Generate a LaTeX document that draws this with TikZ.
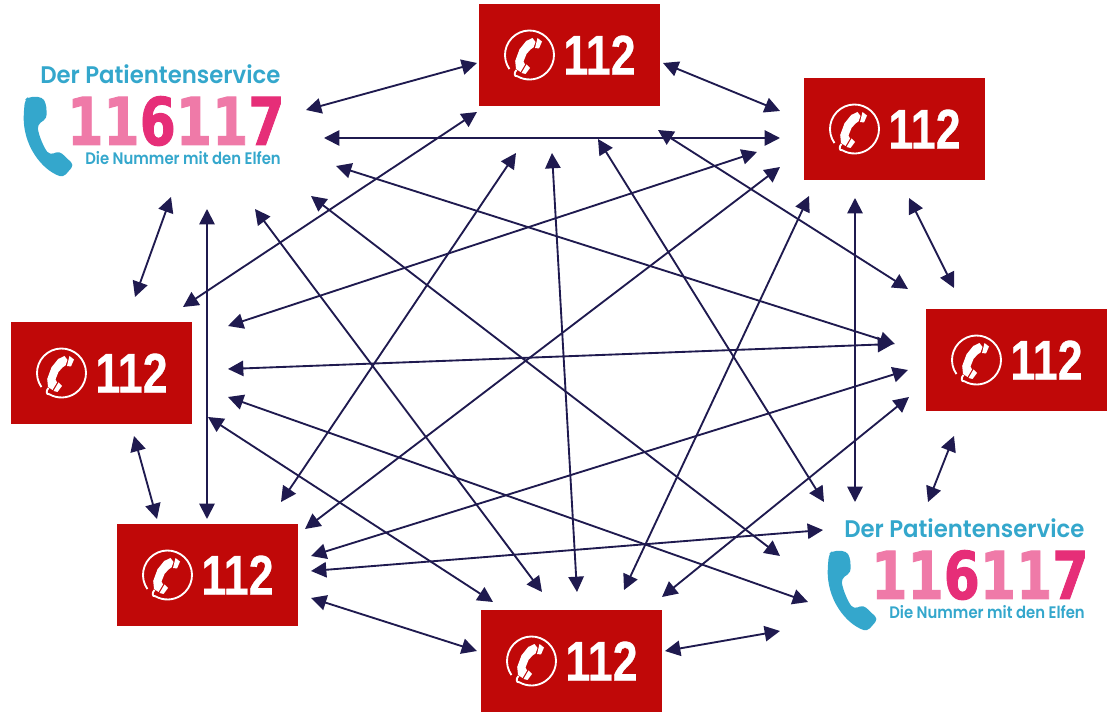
\documentclass[tikz,border=0pt]{standalone}
\usepackage{fontspec}
\usetikzlibrary{arrows.meta}
\newfontfamily\logofont{Poppins SemiBold}
\newfontfamily\digitfont[BoldFeatures={FakeBold=1.5}]{DejaVu Sans}
\newfontfamily\notfont[BoldFeatures={FakeBold=0.6}]{Liberation Sans}
\definecolor{notred}{HTML}{C00808}
\definecolor{linkblue}{HTML}{1F1A4F}
\definecolor{logoblue}{HTML}{34A7CC}
\definecolor{logopink}{HTML}{EF7AA8}
\definecolor{logodark}{HTML}{E62E78}
\tikzset{
    link/.style={<->,>={Stealth[inset=0pt,length=11.5pt,width=11.5pt]},color=linkblue,line width=1.4pt},
    notbox/.style={fill=notred,minimum width=135.75pt,minimum height=76.5pt,inner sep=0pt},
    nottext/.style={text=white,inner sep=0pt,font=\notfont\bfseries\fontsize{42}{42}\selectfont},
    logotext/.style={text=logoblue,inner sep=0pt,anchor=base west},
    notruf/.pic={
        \node[notbox] (-box) at (0,0) {};
        \node[nottext] (-num) at (30,0) {\scalebox{.8}[1]{112}};
        \begin{scope}[shift={(-40,0)}]
        \draw[white,line width=1.4pt] (145:24.5) arc[start angle=145,end angle=480,radius=24.5]
            .. controls (-15,22) and (-16,18) .. (-13,15);
        \fill[white] (3,-17) -- (-3.3,-14) -- (-10,-5.7) -- (-14.3,6) -- (-13.5,14) -- (-9,17)
            -- (-4.5,9.5) -- (-6,6.5) -- (-3,-1) -- (1,-5.5) -- (4,-7.5) -- (6,-13) -- cycle;
        \fill[white] (8,-17) -- (12.5,-13.5) -- (9.5,-6.5) -- (5.5,-7) -- cycle;
        \fill[white] (-3,9.5) -- (0.5,13) -- (-4,19) -- (-8,18) -- cycle;
        \end{scope}
    },
    patient/.pic={
        \node[logotext] (-head) at (-112,-36)
            {\logofont\fontsize{18}{18}\selectfont\scalebox{.95}[1]{Der Patientenservice}};
        \node[logotext] (-num) at (-85,25)
            {\digitfont\bfseries\fontsize{49.4}{49.4}\selectfont\scalebox{.79}[1]{\textcolor{logopink}{11}\textcolor{logodark}{6}\textcolor{logopink}{11}\textcolor{logodark}{7}}};
        \node[logotext] (-tail) at (-67,45)
            {\logofont\fontsize{12.5}{12.5}\selectfont\scalebox{.89}[1]{Die Nummer mit den Elfen}};
        \fill[logoblue,rounded corners=3pt] (-124,-23) -- (-110,-23) -- (-106,-17) -- (-105,-2) -- (-114.7,5)
            .. controls (-113,16) and (-108,28) .. (-102,35) -- (-92.7,31) -- (-78,45) -- (-88.7,57.3)
            .. controls (-110,50) and (-130,25) .. (-128,-10) -- (-127,-20) -- cycle;
    }
}
\begin{document}
\begin{tikzpicture}[x=0.75pt,y=-0.75pt]
    \useasboundingbox (0,0) rectangle (1111,712);

    \pic (a) at (152,120) {patient};
    \pic (b) at (569.5,55) {notruf};
    \pic (c) at (894.5,129) {notruf};
    \pic (d) at (1016.5,360) {notruf};
    \pic (e) at (956,574) {patient};
    \pic (f) at (571.5,661) {notruf};
    \pic (g) at (207.5,575) {notruf};
    \pic (h) at (101.5,373) {notruf};

    % arrow ends, xy sits at x and points towards y
    \foreach \n/\x/\y in {ab/306/110,ba/477/63,ac/324/138,ca/780/138,ad/336/166,da/895/344,
        ae/311/196,ea/780/556,af/255/209,fa/542/592,ag/207/209,ga/207/519,ah/171/197,ha/135/297,
        bc/663/63,cb/780/111,bd/658/130,db/908/289,be/598/139,eb/824/502,bf/552/153,fb/577/592,
        bg/516/153,gb/281/502,bh/477/112,hb/183/307,cd/909/198,dc/954/288,ce/855/198,ec/855/502,
        cf/809/196,fc/624/590,cg/780/167,gc/305/529,ch/757/152,hc/228/326,de/954/436,ed/928/502,
        df/909/397,fd/662/597,dg/908/370,gd/311/556,dh/893/344,hd/228/369,ef/780/631,fe/665/651,
        eg/823/530,ge/311/571,eh/808/602,he/228/397,fg/477/651,gf/311/598,fh/493/602,hf/208/417,
        gh/157/519,hg/134/436}
        \coordinate (\n) at (\x,\y);

    \foreach \u/\v in {a/b,a/c,a/d,a/e,a/f,a/g,a/h,b/c,b/d,b/e,b/f,b/g,b/h,c/d,c/e,c/f,c/g,c/h,
        d/e,d/f,d/g,d/h,e/f,e/g,e/h,f/g,f/h,g/h}
        \draw[link] (\u\v) -- (\v\u);
\end{tikzpicture}
\end{document}
